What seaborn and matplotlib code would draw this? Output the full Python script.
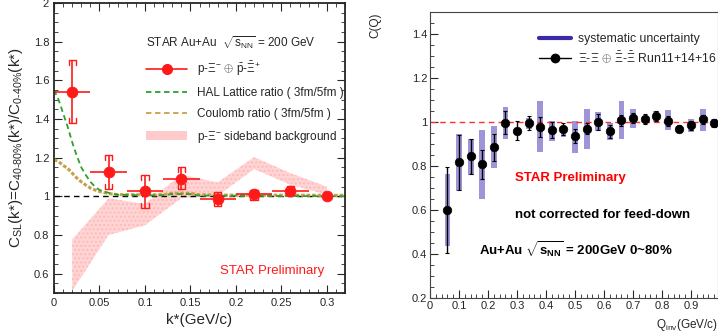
import numpy as np
import pandas as pd
import seaborn as sns
import matplotlib.pyplot as plt
from matplotlib.lines import Line2D
from matplotlib.patches import Patch
from matplotlib.ticker import MultipleLocator

# left panel: p-Xi ratio
k_pts = [0.02, 0.06, 0.10, 0.14, 0.18, 0.22, 0.26, 0.30]
csl = [1.541, 1.127, 1.026, 1.091, 0.986, 1.012, 1.026, 1.0]
csl_sys_lo = [1.378, 1.038, 0.938, 1.038, 0.948, 0.983, 1.009, 1.0]
csl_sys_hi = [1.704, 1.215, 1.112, 1.151, 1.021, 1.034, 1.052, 1.0]
k_err = [0.02, 0.02, 0.02, 0.02, 0.02, 0.02, 0.02, 0.0]

k_curve = [0, 0.005, 0.01, 0.015, 0.02, 0.025, 0.03, 0.035, 0.04, 0.045, 0.05,
           0.06, 0.07, 0.1, 0.12, 0.13, 0.15, 0.16, 0.2, 0.25, 0.32]
hal = [1.55, 1.50, 1.43, 1.36, 1.28, 1.21, 1.15, 1.11, 1.075, 1.05, 1.033,
       1.018, 1.008, 1.005, 1.006, 1.012, 1.012, 1.004, 1.003, 1.002, 1.0]
coulomb = [1.19, 1.18, 1.16, 1.145, 1.12, 1.095, 1.075, 1.058, 1.043, 1.033, 1.025,
           1.014, 1.009, 1.008, 1.008, 1.016, 1.016, 1.008, 1.006, 1.006, 1.005]

k_band = [0.02, 0.06, 0.10, 0.14, 0.18, 0.22, 0.26, 0.30]
band_lo = [0.51, 0.80, 0.85, 0.99, 1.003, 1.141, 1.06, 1.009]
band_hi = [0.777, 0.99, 0.96, 1.112, 1.072, 1.203, 1.12, 1.05]

# right panel: Xi-Xi correlation
q = [0.06, 0.10, 0.14, 0.18, 0.22, 0.26, 0.30, 0.34, 0.38, 0.42, 0.46, 0.50,
     0.54, 0.58, 0.62, 0.66, 0.70, 0.74, 0.78, 0.82, 0.86, 0.90, 0.94, 0.98]
cq = [0.60, 0.817, 0.844, 0.807, 0.885, 0.997, 0.96, 0.997, 0.977, 0.964, 0.967, 0.936,
      0.97, 1.0, 0.957, 1.009, 1.018, 1.013, 1.027, 1.004, 0.97, 0.985, 1.012, 0.996]
cq_stat = [0.195, 0.126, 0.081, 0.068, 0.06, 0.052, 0.043, 0.032, 0.047, 0.038, 0.027, 0.03,
           0.024, 0.036, 0.028, 0.025, 0.021, 0.022, 0.021, 0.024, 0.017, 0.02, 0.02, 0.017]
cq_sys_lo = [0.435, 0.687, 0.76, 0.649, 0.79, 0.922, 0.96, 0.97, 0.862, 0.915, 0.934, 0.86,
             0.877, 0.957, 0.919, 0.925, 0.975, 1.013, 1.0, 0.964, 0.96, 0.955, 0.96, 0.975]
cq_sys_hi = [0.765, 0.945, 0.922, 0.964, 0.982, 1.069, 0.96, 1.016, 1.094, 1.004, 0.979, 1.004,
             1.06, 1.045, 0.994, 1.094, 1.06, 1.013, 1.049, 1.054, 0.98, 1.015, 1.06, 1.015]

sns.set_style("ticks")
plt.rcParams['font.family'] = ['Liberation Sans', 'DejaVu Sans']
plt.rcParams['mathtext.fontset'] = 'custom'
plt.rcParams['mathtext.rm'] = 'Liberation Sans'
plt.rcParams['mathtext.it'] = 'Liberation Sans'
plt.rcParams['mathtext.bf'] = 'Liberation Sans:bold'
plt.rcParams['xtick.direction'] = 'in'
plt.rcParams['ytick.direction'] = 'in'

fig = plt.figure(figsize=(7.18, 3.36), dpi=100)
W, H = 718, 336
ax1 = fig.add_axes([54 / W, (H - 293) / H, 291 / W, 290 / H])
ax2 = fig.add_axes([430 / W, (H - 298) / H, 288 / W, 286 / H])

# ---- left panel ----
red = '#ff1a1a'
ax1.fill_between(k_band, band_lo, band_hi, color='#ffcaca', alpha=0.8, lw=0,
                 hatch='....', edgecolor='#ffb3b3')
ax1.axhline(1.0, color='black', ls=(0, (4, 3)), lw=1.0)
curves = pd.DataFrame({'k': k_curve, 'hal': hal, 'coulomb': coulomb})
sns.lineplot(data=curves, x='k', y='coulomb', ax=ax1, color='#c9a04a', lw=2.2,
             ls=(0, (1.2, 0.6)))
sns.lineplot(data=curves, x='k', y='hal', ax=ax1, color='#2ca02c', lw=1.3,
             ls=(0, (3, 2)))

pts = pd.DataFrame({'k': k_pts, 'c': csl})
ax1.errorbar(k_pts, csl, xerr=k_err, yerr=[np.array(csl) - np.array(csl_sys_lo),
                                          np.array(csl_sys_hi) - np.array(csl)],
             fmt='none', ecolor=red, elinewidth=1.2)
sns.scatterplot(data=pts, x='k', y='c', ax=ax1, color=red, s=60, edgecolor=red, zorder=5)
bw, bh = 0.004, 0.025
for x, lo, hi in zip(k_pts[:-1], csl_sys_lo[:-1], csl_sys_hi[:-1]):
    ax1.plot([x - bw, x - bw, x + bw, x + bw], [hi - bh, hi, hi, hi - bh], color=red, lw=1.0)
    ax1.plot([x - bw, x - bw, x + bw, x + bw], [lo + bh, lo, lo, lo + bh], color=red, lw=1.0)

ax1.set_xlim(0, 0.32)
ax1.set_ylim(0.5, 2.0)
ax1.xaxis.set_major_locator(MultipleLocator(0.05))
ax1.xaxis.set_minor_locator(MultipleLocator(0.01))
ax1.yaxis.set_major_locator(MultipleLocator(0.2))
ax1.yaxis.set_minor_locator(MultipleLocator(0.05))
ax1.set_xticks([0, 0.05, 0.1, 0.15, 0.2, 0.25, 0.3])
ax1.set_xticklabels(['0', '0.05', '0.1', '0.15', '0.2', '0.25', '0.3'])
ax1.set_yticks([0.6, 0.8, 1.0, 1.2, 1.4, 1.6, 1.8, 2.0])
ax1.set_yticklabels(['0.6', '0.8', '1', '1.2', '1.4', '1.6', '1.8', '2'])
ax1.tick_params(which='both', top=True, right=True, labelsize=8)
ax1.tick_params(which='major', length=6)
ax1.tick_params(which='minor', length=3)
for s in ax1.spines.values():
    s.set_linewidth(1.3)
ax1.set_xlabel('k*(GeV/c)', fontsize=11)
ax1.set_ylabel(r'C$_{\rm SL}$(k*)=C$_{\rm 40\text{-}80\%}$(k*)/C$_{\rm 0\text{-}40\%}$(k*)',
               fontsize=11, labelpad=6)
ax1.text(0.183, 0.612, 'STAR Preliminary', color=red, fontsize=9.5, va='center')

handles = [
    Line2D([], [], color=red, marker='o', markersize=7, lw=1.2),
    Line2D([], [], color='#2ca02c', ls=(0, (3, 2)), lw=1.3),
    Line2D([], [], color='#c9a04a', ls=(0, (3, 2)), lw=1.3),
    Patch(facecolor='#ffcaca', edgecolor='none'),
]
labels = [r'p-$\Xi^{-}$ $\oplus$ $\bar{\rm p}$-$\bar{\Xi}^{+}$',
          'HAL Lattice ratio ( 3fm/5fm )',
          'Coulomb ratio ( 3fm/5fm )',
          r'p-$\Xi^{-}$ sideband background']
leg = ax1.legend(handles, labels, title=r'STAR Au+Au  $\sqrt{s_{\rm NN}}$ = 200 GeV',
                 loc='upper left', bbox_to_anchor=(0.28, 0.93), frameon=False,
                 fontsize=8.5, title_fontsize=8.5, handlelength=3.5, labelspacing=0.75)
leg._legend_box.align = 'left'

# ---- right panel ----
sysc = '#9d95d8'
ax2.bar(q, np.array(cq_sys_hi) - np.array(cq_sys_lo), bottom=cq_sys_lo, width=0.02,
        color=sysc, lw=0)
ax2.axhline(1.0, color='#ff3030', ls=(0, (4, 3)), lw=1.0)
ax2.errorbar(q, cq, yerr=cq_stat, fmt='none', ecolor='black', elinewidth=1.0,
             capsize=1.5, capthick=0.8)
qdf = pd.DataFrame({'q': q, 'c': cq})
sns.scatterplot(data=qdf, x='q', y='c', ax=ax2, color='black', s=38, edgecolor='black', zorder=5)

ax2.set_xlim(0, 0.993)
ax2.set_ylim(0.2, 1.5)
ax2.xaxis.set_major_locator(MultipleLocator(0.1))
ax2.xaxis.set_minor_locator(MultipleLocator(0.02))
ax2.yaxis.set_major_locator(MultipleLocator(0.2))
ax2.yaxis.set_minor_locator(MultipleLocator(0.05))
ax2.set_xticks([0, 0.1, 0.2, 0.3, 0.4, 0.5, 0.6, 0.7, 0.8, 0.9])
ax2.set_xticklabels(['0', '0.1', '0.2', '0.3', '0.4', '0.5', '0.6', '0.7', '0.8', '0.9'])
ax2.set_yticks([0.2, 0.4, 0.6, 0.8, 1.0, 1.2, 1.4])
ax2.set_yticklabels(['0.2', '0.4', '0.6', '0.8', '1', '1.2', '1.4'])
ax2.tick_params(which='both', labelsize=8, pad=2)
ax2.tick_params(which='major', length=6)
ax2.tick_params(which='minor', length=3)
for s in ax2.spines.values():
    s.set_linewidth(0.8)
    s.set_color('#444444')
ax2.set_xlabel('')
ax2.set_ylabel('')
ax2.text(-0.19, 1.0, 'C(Q)', transform=ax2.transAxes, rotation=90, ha='center', va='top',
         fontsize=8.5)
ax2.text(1.0, -0.065, r'Q$_{\rm inv}$(GeV/c)', transform=ax2.transAxes, ha='right', va='top',
         fontsize=8.5)
ax2.text(0.295, 0.42, 'STAR Preliminary', color='#ff0000', fontsize=9.5, fontweight='bold',
         transform=ax2.transAxes, va='center')
ax2.text(0.295, 0.29, 'not corrected for feed-down', color='black', fontsize=9.5,
         fontweight='bold', transform=ax2.transAxes, va='center')
ax2.text(0.17, 0.168, r'Au+Au $\mathbf{\sqrt{s_{NN}}}$ = 200GeV 0~80%', color='black',
         fontsize=9.5, fontweight='bold', transform=ax2.transAxes, va='center')

rhandles = [Line2D([], [], color='#3a2aa8', lw=3),
            Line2D([], [], color='black', marker='o', markersize=6, lw=1)]
rlabels = ['systematic uncertainty',
           r'$\Xi$-$\Xi$ $\oplus$ $\bar{\Xi}$-$\bar{\Xi}$ Run11+14+16']
ax2.legend(rhandles, rlabels, loc='upper left', bbox_to_anchor=(0.34, 0.965), frameon=False,
           fontsize=8.8, handlelength=2.6, handletextpad=0.6, labelspacing=0.35)

fig.savefig('out.png', dpi=100)
